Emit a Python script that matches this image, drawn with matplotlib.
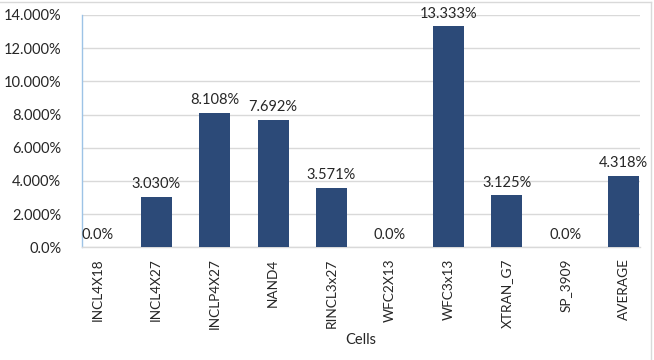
import matplotlib
matplotlib.use("Agg")
import matplotlib.pyplot as plt
from matplotlib.lines import Line2D

categories = ["INCL4X18", "INCL4X27", "INCLP4X27", "NAND4", "RINCL3x27",
              "WFC2X13", "WFC3x13", "XTRAN_G7", "SP_3909", "AVERAGE"]
values = [0.0, 3.030, 8.108, 7.692, 3.571, 0.0, 13.333, 3.125, 0.0, 4.318]
bar_labels = ["0.0%", "3.030%", "8.108%", "7.692%", "3.571%", "0.0%",
              "13.333%", "3.125%", "0.0%", "4.318%"]
yticks = [0, 2, 4, 6, 8, 10, 12, 14]
ytick_labels = ["0.0%", "2.000%", "4.000%", "6.000%", "8.000%", "10.000%",
                "12.000%", "14.000%"]

plt.rcParams['font.family'] = ['Lato', 'DejaVu Sans']
fs = 10.5
text_color = "#262626"

fig = plt.figure(figsize=(6.54, 3.6), dpi=100)
ax = fig.add_axes([82/654, 1 - 247.3/360, (640-82)/654, (247.3-15)/360])

x = list(range(len(categories)))
ax.bar(x, values, width=0.53, color="#2C4A78", zorder=3)

for xi, v, lab in zip(x, values, bar_labels):
    ax.annotate(lab, (xi, v), xytext=(0, 4), textcoords="offset points",
                ha="center", va="bottom", fontsize=fs, color=text_color)

ax.set_xlim(-0.27, 9.28)
ax.set_ylim(0, 14)
ax.set_yticks(yticks)
ax.set_yticklabels(ytick_labels, fontsize=fs, color=text_color)
ax.set_xticks(x)
ax.set_xticklabels(categories, rotation=90, fontsize=9.8, color=text_color)
ax.tick_params(axis='both', length=0)
ax.tick_params(axis='y', pad=15)
ax.tick_params(axis='x', pad=8)
ax.grid(axis='y', color="#D9D9D9", linewidth=1, zorder=0)
ax.set_axisbelow(True)

for s in ["top", "right"]:
    ax.spines[s].set_visible(False)
ax.spines["left"].set_color("#9DC3E6")
ax.spines["left"].set_linewidth(1)
ax.spines["bottom"].set_color("#D9D9D9")
ax.spines["bottom"].set_linewidth(1)

ax.set_xlabel("Cells", fontsize=fs, color=text_color, labelpad=3)

# chart border
fig.add_artist(Line2D([0, 651/654], [1 - 2/360, 1 - 2/360], color="#D9D9D9", lw=1, transform=fig.transFigure))
fig.add_artist(Line2D([651/654, 651/654], [0, 1 - 2/360], color="#D9D9D9", lw=1, transform=fig.transFigure))

fig.savefig("out.png", dpi=100)
